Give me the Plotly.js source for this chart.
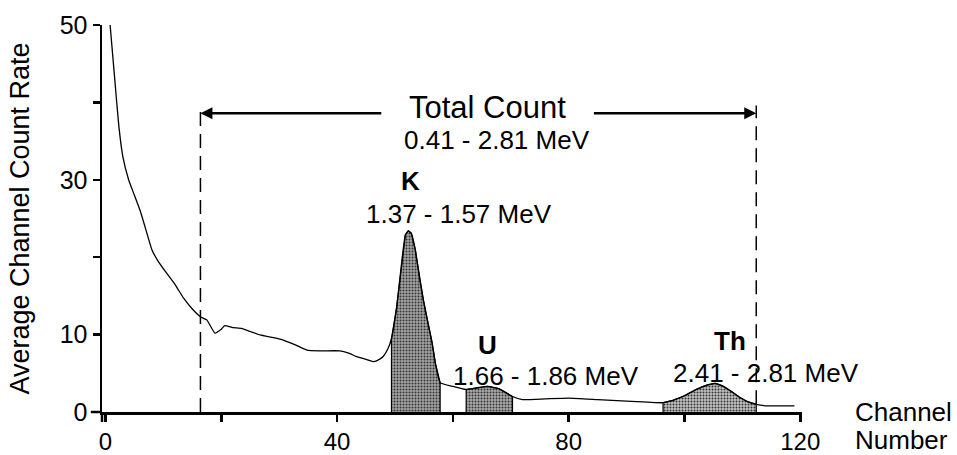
<!DOCTYPE html>
<html>
<head>
<meta charset="utf-8">
<script src="https://cdn.plot.ly/plotly-3.0.1.min.js"></script>
<style>html,body{margin:0;padding:0;background:#fff;}#chart{width:957px;height:455px;}</style>
</head>
<body>
<div id="chart"></div>
<script>
// ---- data ----
const channels = [0.8, 1.6, 2.3, 3.0, 4.0, 5.0, 6.0, 7.0, 8.0, 9.0, 10.5, 12.0, 13.5, 15.0, 16.4, 17.5, 18.9, 20.0, 20.6, 22.0, 23.5, 25.0, 26.7, 29.0, 30.7, 33.0, 34.8, 37.0, 40.5, 42.0, 43.4, 45.0, 46.3, 47.3, 48.0, 48.8, 49.4, 50.3, 51.2, 51.8, 52.3, 52.8, 53.5, 54.2, 54.9, 55.7, 56.4, 57.0, 57.8, 60.0, 62.3, 64.0, 66.0, 68.0, 70.3, 72.0, 76.0, 80.0, 85.0, 90.0, 96.3, 98.0, 100.0, 102.0, 104.0, 105.3, 106.5, 108.0, 109.5, 111.0, 112.4, 114.0, 119.0];
const countRate = [50.0, 43.0, 37.0, 33.0, 30.0, 28.0, 26.0, 23.5, 21.0, 19.6, 18.0, 16.5, 14.7, 13.3, 12.3, 11.9, 10.2, 10.7, 11.15, 10.9, 10.8, 10.4, 9.95, 9.6, 9.3, 8.6, 8.0, 7.9, 7.9, 7.6, 7.15, 6.8, 6.5, 6.8, 7.2, 8.2, 9.5, 13.6, 19.6, 22.9, 23.4, 23.1, 21.0, 17.5, 14.5, 11.5, 9.0, 6.2, 3.8, 3.3, 2.9, 3.1, 3.3, 3.0, 2.0, 1.6, 1.7, 1.8, 1.6, 1.4, 1.2, 1.5, 2.1, 2.9, 3.5, 3.7, 3.4, 2.7, 1.9, 1.3, 1.0, 0.8, 0.8];

const totalWindow = [16.4, 112.4];
const kWindow = [49.4, 57.8];
const uWindow = [62.3, 70.3];
const thWindow = [96.3, 112.4];

const windowNames = ['K', 'U', 'Th'];
const windowEnergies = ['1.37 - 1.57 MeV', '1.66 - 1.86 MeV', '2.41 - 2.81 MeV'];
const totalName = 'Total Count';
const totalEnergy = '0.41 - 2.81 MeV';

const yTickValues = [0, 10, 20, 30, 40, 50];
const yTickText = ['0', '10', '', '30', '', '50'];
const xTickValues = [0, 20, 40, 60, 80, 100, 120];
const xTickText = ['0', '', '40', '', '80', '', '120'];

// ---- build ----
const FONT = 'Liberation Sans, Arial, Helvetica, sans-serif';
const LBL = 26;

function windowShape(win) {
  const xs = [win[0]], ys = [0];
  for (let i = 0; i < channels.length; i++) {
    if (channels[i] >= win[0] && channels[i] <= win[1]) { xs.push(channels[i]); ys.push(countRate[i]); }
  }
  xs.push(win[1]); ys.push(0);
  return {xs, ys};
}
function rateAt(ch) { return countRate[channels.indexOf(ch)]; }

const fills = [
  {win: kWindow, bg: '#a4a4a4'},
  {win: uWindow, bg: '#ababab'},
  {win: thWindow, bg: '#c2c2c2'}
].map(f => {
  const s = windowShape(f.win);
  return {
    x: s.xs, y: s.ys, type: 'scatter', mode: 'lines', fill: 'toself',
    fillcolor: f.bg,
    fillpattern: {shape: '.', fgcolor: '#333333', bgcolor: f.bg, size: 3, solidity: 0.35},
    line: {color: '#000', width: 1.2}, hoverinfo: 'skip', showlegend: false
  };
});

const curve = {
  x: channels, y: countRate, type: 'scatter', mode: 'lines',
  line: {color: '#000', width: 1.3, shape: 'spline', smoothing: 0.4}, showlegend: false
};

const dashL = {x: [totalWindow[0], totalWindow[0]], y: [0, 39.0], type: 'scatter', mode: 'lines',
  line: {color: '#000', width: 1.5, dash: '14px,8px'}, showlegend: false};
const dashR = {x: [totalWindow[1], totalWindow[1]], y: [rateAt(totalWindow[1]), 39.6], type: 'scatter', mode: 'lines',
  line: {color: '#000', width: 1.5, dash: '14px,8px'}, showlegend: false};

const txt = (x, y, text, size) => ({x, y, text, showarrow: false, font: {family: FONT, size: size, color: '#000'}});

const annotations = [
  {x: totalWindow[0], y: 38.6, ax: 47.9, ay: 38.6, axref: 'x', ayref: 'y', text: '', showarrow: true,
   arrowhead: 2, arrowsize: 1, arrowwidth: 2.4, arrowcolor: '#000'},
  {x: totalWindow[1], y: 38.6, ax: 84.1, ay: 38.6, axref: 'x', ayref: 'y', text: '', showarrow: true,
   arrowhead: 2, arrowsize: 1, arrowwidth: 2.4, arrowcolor: '#000'},
  txt(65.9, 39.4, totalName, 31),
  txt(67.6, 35.1, totalEnergy, LBL),
  txt(52.6, 29.8, '<b>' + windowNames[0] + '</b>', LBL),
  txt(61.0, 25.6, windowEnergies[0], LBL),
  txt(65.9, 8.7, '<b>' + windowNames[1] + '</b>', LBL),
  txt(76.0, 4.6, windowEnergies[1], LBL),
  txt(107.9, 9.2, '<b>' + windowNames[2] + '</b>', LBL),
  txt(114.0, 5.0, windowEnergies[2], LBL),
  {xref: 'paper', yref: 'paper', x: 1.073, y: 0.0, xanchor: 'left', yanchor: 'middle', text: 'Channel', showarrow: false,
   font: {family: FONT, size: LBL, color: '#000'}},
  {xref: 'paper', yref: 'paper', x: 1.073, y: -0.072, xanchor: 'left', yanchor: 'middle', text: 'Number', showarrow: false,
   font: {family: FONT, size: LBL, color: '#000'}}
];

const layout = {
  width: 957, height: 455,
  margin: {l: 102, r: 155, t: 25, b: 43},
  paper_bgcolor: '#fff', plot_bgcolor: '#fff',
  font: {family: FONT, size: 24, color: '#000'},
  showlegend: false,
  xaxis: {
    range: [-0.6, 120.3], tickvals: xTickValues, ticktext: xTickText,
    showgrid: false, zeroline: false, showline: true, linecolor: '#000', linewidth: 2.5,
    ticks: 'outside', ticklen: 7, tickwidth: 2.5, tickcolor: '#000', ticklabelstandoff: 0,
    tickfont: {family: FONT, size: 24, color: '#000'}, fixedrange: true
  },
  yaxis: {
    range: [0, 50], tickvals: yTickValues, ticktext: yTickText,
    showgrid: false, zeroline: false, showline: true, linecolor: '#000', linewidth: 2.5,
    ticks: 'outside', ticklen: 7, tickwidth: 2.5, tickcolor: '#000',
    tickfont: {family: FONT, size: 25, color: '#000'},
    title: {text: 'Average Channel Count Rate', font: {family: FONT, size: 27, color: '#000'}, standoff: 22},
    fixedrange: true
  },
  shapes: [
    {type: 'line', xref: 'paper', yref: 'paper', x0: 0, x1: 0, y0: 0, y1: -0.026, line: {color: '#000', width: 2.5}},
    {type: 'line', xref: 'paper', yref: 'paper', x0: -0.016, x1: 0, y0: 0, y1: 0, line: {color: '#000', width: 2.5}}
  ],
  annotations: annotations
};

Plotly.newPlot('chart', [...fills, curve, dashL, dashR], layout, {staticPlot: true, displayModeBar: false});
</script>
</body>
</html>
